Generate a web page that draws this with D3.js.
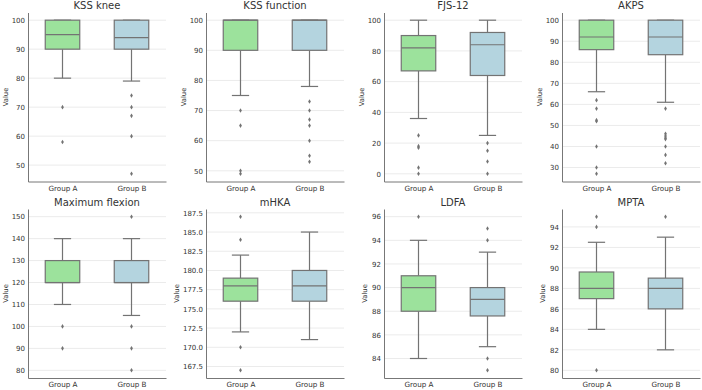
<!DOCTYPE html>
<html>
<head>
<meta charset="utf-8">
<script src="https://cdn.jsdelivr.net/npm/d3@7"></script>
<style>
  body { margin: 0; background: #fff; }
  text { font-family: "DejaVu Sans", sans-serif; fill: #333; }
</style>
</head>
<body>
<div id="chart"></div>
<script>
// Chart values
const titles = ["KSS knee", "KSS function", "FJS-12", "AKPS",
                "Maximum flexion", "mHKA", "LDFA", "MPTA"];
const groups = ["Group A", "Group B"];

// box stats, [Group A, Group B] for each panel
const q1 = [[90, 90], [90, 90], [67, 64], [86, 83.6], [120, 120], [176, 176], [88, 87.6], [87, 86]];
const median = [[95, 94], [100, 100], [82, 84], [92, 92], [120, 120], [178, 178], [90, 89], [88, 88]];
const q3 = [[100, 100], [100, 100], [90, 92], [100, 100], [130, 130], [179, 180], [91, 90], [89.6, 89]];
const whiskerLo = [[80, 79], [75, 78], [36, 25], [66, 61], [110, 105], [172, 171], [84, 85], [84, 82]];
const whiskerHi = [[100, 100], [100, 100], [100, 100], [100, 100], [140, 140], [182, 185], [94, 93], [92.5, 93]];
const outliers = [
  [[70, 58], [74, 70, 67, 60, 47]],
  [[70, 65, 50, 49], [73, 70, 67, 65, 60, 55, 53]],
  [[25, 18, 17, 4, 0], [20, 15, 8, 0]],
  [[62, 58, 52.5, 52, 40, 30, 27], [58, 46, 45, 44, 43.5, 40, 36, 32]],
  [[100, 90], [150, 100, 90, 80]],
  [[187, 184, 170, 167], []],
  [[96], [95, 94, 84, 83]],
  [[95, 94, 80], [95]]
];

// tick labels on the y axes
const yTicks = [
  [50, 60, 70, 80, 90, 100],
  [50, 60, 70, 80, 90, 100],
  [0, 20, 40, 60, 80, 100],
  [30, 40, 50, 60, 70, 80, 90, 100],
  [80, 90, 100, 110, 120, 130, 140, 150],
  [167.5, 170, 172.5, 175, 177.5, 180, 182.5, 185, 187.5],
  [84, 86, 88, 90, 92, 94, 96],
  [80, 82, 84, 86, 88, 90, 92, 94]
];
const tickFormats = ["d", "d", "d", "d", "d", ".1f", "d", "d"];

const width = 702,
    height = 390,
    axW = 138,
    axH = 169,
    colStep = 178,
    rowStep = 196.5,
    left0 = 28,
    top0 = 12.5;

const fills = ["#9ce29c", "#b4d4df"];
const lineColor = "#737373";

const svg = d3.select("#chart")
    .append("svg")
    .attr("width", width)
    .attr("height", height)
    .attr("viewBox", [0, 0, width, height]);

titles.forEach((title, i) => {
    const col = i % 4, row = Math.floor(i / 4);
    const g = svg.append("g")
        .attr("transform", `translate(${left0 + col * colStep},${top0 + row * rowStep})`);

    // y domain like matplotlib autoscale: data range plus 5% each side
    const all = [].concat(whiskerLo[i], whiskerHi[i], outliers[i][0], outliers[i][1]);
    const lo = d3.min(all), hi = d3.max(all), pad = (hi - lo) * 0.05;

    const y = d3.scaleLinear()
        .domain([lo - pad, hi + pad])
        .range([axH, 0]);

    const x = d3.scaleLinear()
        .domain([-0.5, 1.5])
        .range([0, axW]);

    // grid lines
    g.append("g")
        .selectAll("line")
        .data(yTicks[i])
        .join("line")
        .attr("x1", 0)
        .attr("x2", axW)
        .attr("y1", d => y(d))
        .attr("y2", d => y(d))
        .attr("stroke", "#ebebeb")
        .attr("stroke-width", 1);

    // y axis
    const yAxis = g.append("g")
        .call(d3.axisLeft(y).tickValues(yTicks[i]).tickFormat(d3.format(tickFormats[i])).tickSize(0).tickPadding(3));
    yAxis.select(".domain").attr("stroke", "#777");
    yAxis.selectAll("text").attr("font-size", 7).attr("fill", "#333");

    // x axis
    const xAxis = g.append("g")
        .attr("transform", `translate(0,${axH})`)
        .call(d3.axisBottom(x).tickValues([0, 1]).tickFormat(d => groups[d]).tickSize(0).tickPadding(4));
    xAxis.select(".domain").attr("stroke", "#777");
    xAxis.selectAll("text").attr("font-size", 7.2).attr("fill", "#333");

    // y label placed left of the widest tick label
    const tickW = d3.max(yAxis.selectAll("text").nodes(), n => n.getBBox().width);
    g.append("text")
        .attr("transform", `translate(${-3 - tickW - 6.5},${axH / 2}) rotate(-90)`)
        .attr("text-anchor", "middle")
        .attr("dy", "0.35em")
        .attr("font-size", 6.8)
        .text("Value");

    // title
    g.append("text")
        .attr("x", axW / 2)
        .attr("y", -3.5)
        .attr("text-anchor", "middle")
        .attr("font-size", 10)
        .text(title);

    const boxW = x(0.25) - x(0);

    groups.forEach((grp, k) => {
        const cx = x(k);
        const bg = g.append("g");

        // whiskers
        bg.append("line")
            .attr("x1", cx).attr("x2", cx)
            .attr("y1", y(q1[i][k])).attr("y2", y(whiskerLo[i][k]))
            .attr("stroke", lineColor).attr("stroke-width", 1.2);
        bg.append("line")
            .attr("x1", cx).attr("x2", cx)
            .attr("y1", y(q3[i][k])).attr("y2", y(whiskerHi[i][k]))
            .attr("stroke", lineColor).attr("stroke-width", 1.2);

        // caps
        [whiskerLo[i][k], whiskerHi[i][k]].forEach(v => {
            bg.append("line")
                .attr("x1", cx - boxW / 2).attr("x2", cx + boxW / 2)
                .attr("y1", y(v)).attr("y2", y(v))
                .attr("stroke", lineColor).attr("stroke-width", 1.2);
        });

        // box
        bg.append("rect")
            .attr("x", cx - boxW)
            .attr("width", boxW * 2)
            .attr("y", y(q3[i][k]))
            .attr("height", y(q1[i][k]) - y(q3[i][k]))
            .attr("fill", fills[k])
            .attr("stroke", lineColor)
            .attr("stroke-width", 1.2);

        // median
        bg.append("line")
            .attr("x1", cx - boxW).attr("x2", cx + boxW)
            .attr("y1", y(median[i][k])).attr("y2", y(median[i][k]))
            .attr("stroke", lineColor).attr("stroke-width", 1.2);

        // outliers as thin diamonds
        bg.selectAll("path")
            .data(outliers[i][k])
            .join("path")
            .attr("transform", d => `translate(${cx},${y(d)})`)
            .attr("d", "M0,-2.3L1.4,0L0,2.3L-1.4,0Z")
            .attr("fill", lineColor);
    });
});
</script>
</body>
</html>
